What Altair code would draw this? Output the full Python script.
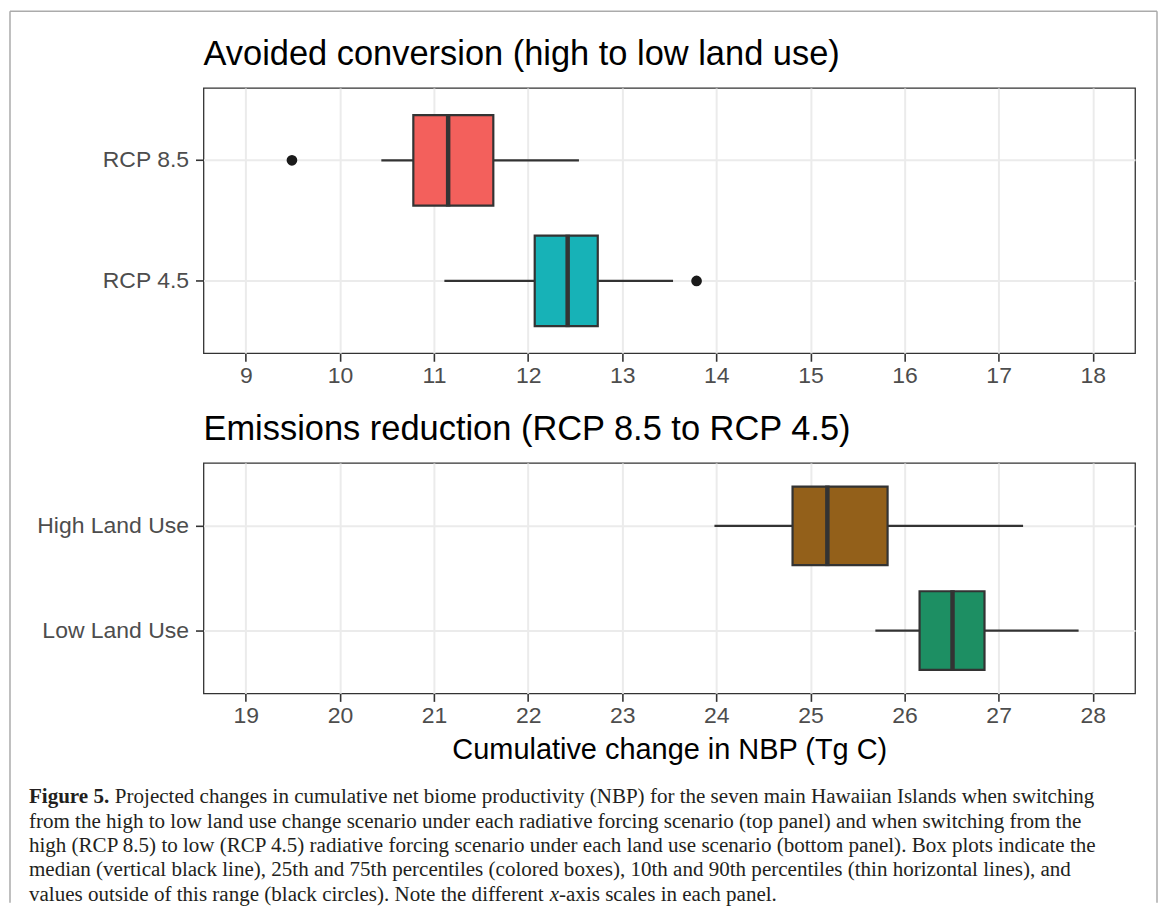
import altair as alt
import pandas as pd

# ---------------- data ----------------
top_categories = ["RCP 8.5", "RCP 4.5"]
top_p10 = [10.44, 11.11]
top_q1 = [10.78, 12.07]
top_median = [11.15, 12.42]
top_q3 = [11.63, 12.74]
top_p90 = [12.54, 13.54]
top_outlier_cat = ["RCP 8.5", "RCP 4.5"]
top_outlier_val = [9.49, 13.79]
top_ticks = [9, 10, 11, 12, 13, 14, 15, 16, 17, 18]

bottom_categories = ["High Land Use", "Low Land Use"]
bottom_p10 = [23.98, 25.69]
bottom_q1 = [24.81, 26.16]
bottom_median = [25.18, 26.51]
bottom_q3 = [25.82, 26.85]
bottom_p90 = [27.26, 27.85]
bottom_outlier_cat = []
bottom_outlier_val = []
bottom_ticks = [19, 20, 21, 22, 23, 24, 25, 26, 27, 28]

top_title = "Avoided conversion (high to low land use)"
bottom_title = "Emissions reduction (RCP 8.5 to RCP 4.5)"
x_axis_title = "Cumulative change in NBP (Tg C)"

caption_label = "Figure 5."
caption_first = ("Projected changes in cumulative net biome productivity (NBP) for the seven "
                 "main Hawaiian Islands when switching")
caption_middle = [
    "from the high to low land use change scenario under each radiative forcing scenario "
    "(top panel) and when switching from the",
    "high (RCP 8.5) to low (RCP 4.5) radiative forcing scenario under each land use scenario "
    "(bottom panel). Box plots indicate the",
    "median (vertical black line), 25th and 75th percentiles (colored boxes), 10th and 90th "
    "percentiles (thin horizontal lines), and",
]
caption_last_a = "values outside of this range (black circles). Note the different"
caption_last_x = "x"
caption_last_b = "-axis scales in each panel."

# ---------------- style ----------------
SANS = "Liberation Sans"
SERIF = "Liberation Serif"
DARK = "#333333"
PANEL_W = 934
TOP_H = 266
BOTTOM_H = 231
GAP = 110


def box_panel(categories, p10, q1, med, q3, p90, out_cat, out_val, colors,
              ticks, title, height, x_title):
    df = pd.DataFrame({"cat": categories, "p10": p10, "q1": q1,
                       "median": med, "q3": q3, "p90": p90})
    lo, hi = ticks[0], ticks[-1]
    pad = 0.05 * (hi - lo)
    xscale = alt.Scale(domain=[lo - pad, hi + pad], nice=False, zero=False)
    xaxis = alt.Axis(values=ticks, grid=True, format="d")
    yscale = alt.Scale(domain=categories, paddingInner=0.25, paddingOuter=0.225)
    yaxis = alt.Axis(title=None, grid=True, bandPosition=0.5)
    band = height / 2.2 * 0.75

    def X(field):
        return alt.X(field, type="quantitative", scale=xscale, axis=xaxis, title=x_title)

    def Y():
        return alt.Y("cat:N", sort=categories, scale=yscale, axis=yaxis)

    base = alt.Chart(df)
    whisk = base.mark_rule(color=DARK, strokeWidth=2.2).encode(
        x=X("p10"), x2="p90:Q", y=Y())
    box = base.mark_bar(stroke=DARK, strokeWidth=2.2, opacity=1).encode(
        x=X("q1"), x2="q3:Q", y=Y(),
        color=alt.Color("cat:N", scale=alt.Scale(domain=categories, range=colors),
                        legend=None))
    median = base.mark_tick(orient="vertical", size=band + 2, thickness=4.5,
                            color=DARK, opacity=1).encode(x=X("median"), y=Y())
    layers = [whisk, box, median]
    if len(out_val) > 0:
        odf = pd.DataFrame({"cat": out_cat, "value": out_val})
        pts = alt.Chart(odf).mark_circle(size=115, color="#1A1A1A", opacity=1).encode(
            x=X("value"), y=Y())
        layers.append(pts)
    return alt.layer(*layers).properties(
        width=PANEL_W, height=height,
        title=alt.TitleParams(title, anchor="start", frame="group", fontSize=34.5,
                              font=SANS, fontWeight="normal", color="black",
                              baseline="alphabetic", offset=-11))


top = box_panel(top_categories, top_p10, top_q1, top_median, top_q3, top_p90,
                top_outlier_cat, top_outlier_val, ["#F3605C", "#17B2B7"],
                top_ticks, top_title, TOP_H, None)
bottom = box_panel(bottom_categories, bottom_p10, bottom_q1, bottom_median, bottom_q3,
                   bottom_p90, bottom_outlier_cat, bottom_outlier_val,
                   ["#93601A", "#1D8F63"], bottom_ticks, bottom_title, BOTTOM_H,
                   x_axis_title)

# ---------------- caption ----------------
CAP_SIZE = 21.1
LINE_H = 24.5
CAP_X = -175
cap_color = "#231F20"
line_scale = alt.Scale(domain=[0, 4], range=[0, 4 * LINE_H])

cap_rows = pd.DataFrame({
    "line": [0, 0] + [1, 2, 3] + [4, 4, 4],
    "text": [caption_label, caption_first] + caption_middle
            + [caption_last_a, caption_last_x, caption_last_b],
    "part": ["label", "first", "mid", "mid", "mid", "a", "x", "b"],
})

bold_w = 3.833 * CAP_SIZE + 0.25 * CAP_SIZE
last_x_off = 24.744 * CAP_SIZE
last_b_off = 25.188 * CAP_SIZE


def cap_text(part, xoff, weight="normal", style="normal"):
    return alt.Chart(cap_rows).transform_filter(
        alt.datum.part == part
    ).mark_text(align="left", baseline="alphabetic", font=SERIF, fontSize=CAP_SIZE,
                fontWeight=weight, fontStyle=style, color=cap_color).encode(
        x=alt.value(CAP_X + xoff),
        y=alt.Y("line:Q", scale=line_scale, axis=None),
        text="text:N")


border_df = pd.DataFrame({"edge": ["frame"]})
BL, BR = -194, 956
BT, BB = -794, 100
bcol = "#ABABAB"
border_left = alt.Chart(border_df).mark_rule(color=bcol, strokeWidth=1.5).encode(
    x=alt.value(BL), y=alt.value(BT), y2=alt.value(BB))
border_right = alt.Chart(border_df).mark_rule(color=bcol, strokeWidth=1.5).encode(
    x=alt.value(BR), y=alt.value(BT), y2=alt.value(BB))
border_top = alt.Chart(border_df).mark_rule(color=bcol, strokeWidth=1.5).encode(
    x=alt.value(BL), x2=alt.value(BR), y=alt.value(BT))

caption = alt.layer(
    border_left, border_right, border_top,
    cap_text("label", 0, weight="bold"),
    cap_text("first", bold_w),
    cap_text("mid", 0),
    cap_text("a", 0),
    cap_text("x", last_x_off, style="italic"),
    cap_text("b", last_b_off),
).properties(width=PANEL_W, height=10, view=alt.ViewBackground(stroke="transparent"))

chart = alt.vconcat(top, bottom, caption, spacing=GAP, bounds="flush").resolve_scale(
    x="independent", y="independent", color="independent"
).properties(padding=0, background="white").configure_view(
    stroke=DARK, strokeWidth=1.3
).configure_axis(
    labelFont=SANS, labelFontSize=23, labelColor="#4D4D4D",
    tickColor=DARK, tickWidth=1.6, tickSize=8, domain=False,
    gridColor="#EBEBEB", gridWidth=2,
    titleFont=SANS, titleFontSize=29, titleFontWeight="normal", titleColor="black"
).configure_axisX(labelPadding=3, titlePadding=8).configure_axisY(labelPadding=7)

chart.save("out.html", embed_options={"renderer": "svg", "actions": False})
